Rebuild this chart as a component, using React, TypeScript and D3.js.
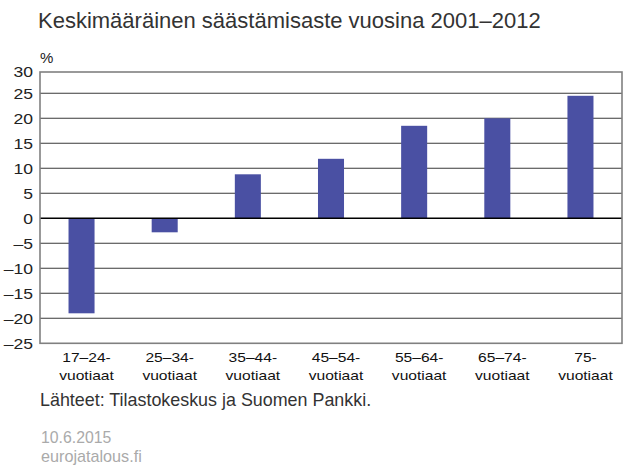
import React from "react";
import * as d3 from "d3";

const title = "Keskimääräinen säästämisaste vuosina 2001–2012";
const unitLabel = "%";
const categories = ["17–24-", "25–34-", "35–44-", "45–54-", "55–64-", "65–74-", "75-"];
const categorySub = ["vuotiaat", "vuotiaat", "vuotiaat", "vuotiaat", "vuotiaat", "vuotiaat", "vuotiaat"];
const values = [-19.0, -2.8, 8.8, 11.9, 18.5, 20.0, 24.5];
const yTicks = [30, 25, 20, 15, 10, 5, 0, -5, -10, -15, -20, -25];
const sourceText = "Lähteet: Tilastokeskus ja Suomen Pankki.";
const dateText = "10.6.2015";
const siteText = "eurojatalous.fi";

const W = 640;
const H = 468;
const plotLeft = 40;
const plotRight = 622;
const frameTop = 72;
const frameBottom = 343.3;

export default function App() {
  const x = d3
    .scaleBand<string>()
    .domain(categories)
    .range([plotLeft, plotRight])
    .paddingInner(0.687)
    .paddingOuter(0.343);
  const y = d3.scaleLinear().domain([-25, 30]).range([frameBottom, 68.3]);
  const fmt = (v: number) => String(v).replace("-", "–");
  const font = "'Liberation Sans', Arial, Helvetica, sans-serif";
  const barColor = "#4a50a3";

  return (
    <svg
      width={W}
      height={H}
      viewBox={`0 0 ${W} ${H}`}
      style={{ position: "absolute", left: 0, top: 0, background: "#fff" }}
      fontFamily={font}
    >
      <rect x={0} y={0} width={W} height={H} fill="#fff" />
      <text x={38} y={28} fontSize={22} fill="#333">
        {title}
      </text>
      <text x={40} y={63} fontSize={15} fill="#222">
        {unitLabel}
      </text>

      {/* gridlines */}
      {yTicks
        .filter((t) => t !== 30 && t !== -25 && t !== 0)
        .map((t) => (
          <line
            key={"g" + t}
            x1={plotLeft}
            x2={plotRight}
            y1={y(t)}
            y2={y(t)}
            stroke="#3a3a3a"
            strokeWidth={1.1}
          />
        ))}

      {/* bars */}
      {values.map((v, i) => {
        const y0 = y(0);
        const yv = y(v);
        return (
          <rect
            key={"b" + i}
            x={x(categories[i])!}
            width={x.bandwidth()}
            y={Math.min(y0, yv)}
            height={Math.abs(yv - y0)}
            fill={barColor}
          />
        );
      })}

      {/* zero line */}
      <line x1={plotLeft} x2={plotRight} y1={y(0)} y2={y(0)} stroke="#000" strokeWidth={1.4} />

      {/* frame */}
      <rect
        x={plotLeft}
        y={frameTop}
        width={plotRight - plotLeft}
        height={frameBottom - frameTop}
        fill="none"
        stroke="#808080"
        strokeWidth={1.6}
      />

      {/* y tick labels */}
      {yTicks.map((t) => {
        const ty = Math.max(y(t), frameTop);
        return (
          <text
            key={"t" + t}
            transform={`translate(33,${ty}) scale(1.17,1)`}
            textAnchor="end"
            dy="0.36em"
            fontSize={15}
            fill="#222"
          >
            {fmt(t)}
          </text>
        );
      })}

      {/* category labels */}
      {categories.map((c, i) => {
        const cx = x(c)! + x.bandwidth() / 2 + 5;
        return (
          <g key={"c" + i} transform={`translate(${cx},0) scale(1.2,1)`}>
            <text x={0} y={361.7} textAnchor="middle" fontSize={13} fill="#111">
              {c}
            </text>
            <text x={0} y={380} textAnchor="middle" fontSize={13} fill="#111">
              {categorySub[i]}
            </text>
          </g>
        );
      })}

      <text x={40} y={406} fontSize={17.9} fill="#333">
        {sourceText}
      </text>
      <text x={41} y={443} fontSize={15.8} fill="#aaa">
        {dateText}
      </text>
      <text x={41} y={462} fontSize={16.2} fill="#aaa">
        {siteText}
      </text>
    </svg>
  );
}
